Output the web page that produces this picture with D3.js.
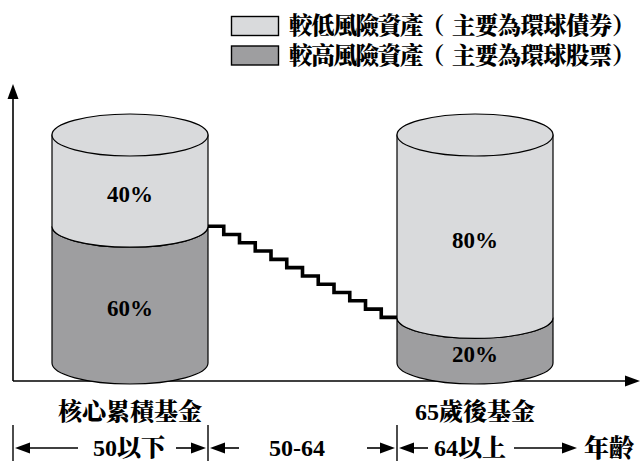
<!DOCTYPE html>
<html>
<head>
<meta charset="utf-8">
<script src="https://cdn.jsdelivr.net/npm/d3@7"></script>
<style>
  html, body { margin: 0; padding: 0; background: #fff; }
  svg { display: block; }
</style>
</head>
<body>
<div id="chart"></div>
<script>
// Fund categories and asset split (percent)
const funds = ["核心累積基金", "65歲後基金"];
const highRisk = [60, 20];   // 較高風險資產
const lowRisk = [40, 80];    // 較低風險資產
const seriesNames = ["較低風險資產（主要為環球債券）", "較高風險資產（主要為環球股票）"];
const ageBands = ["50以下", "50-64", "64以上"];
const ageAxisLabel = "年齡";
const glideSteps = 12;

const W = 643, H = 461;
const font = "'Liberation Serif', 'Noto Serif CJK TC', 'Noto Sans CJK TC', serif";
const lightFill = "#d9dadc", darkFill = "#9e9ea0";

const svg = d3.select("#chart").append("svg").attr("width", W).attr("height", H);

const axisX0 = 13, axisY0 = 381;
const x = d3.scalePoint().domain(funds).range([130, 475]);
const y = d3.scaleLinear().domain([0, 100]).range([363, 135]);
const rx = 78, ry = 21;

// Arrowhead helper
function arrowHead(g, tipX, tipY, dir, len, half) {
  let pts;
  if (dir === "up") pts = [[tipX, tipY], [tipX - half, tipY + len], [tipX + half, tipY + len]];
  else if (dir === "right") pts = [[tipX, tipY], [tipX - len, tipY - half], [tipX - len, tipY + half]];
  else pts = [[tipX, tipY], [tipX + len, tipY - half], [tipX + len, tipY + half]];
  g.append("path").attr("d", d3.line()(pts) + "Z").attr("fill", "#000");
}

// Axes
const axes = svg.append("g");
axes.append("line").attr("x1", axisX0).attr("y1", axisY0).attr("x2", axisX0).attr("y2", 96)
  .attr("stroke", "#000").attr("stroke-width", 1.6);
arrowHead(axes, axisX0, 84, "up", 15, 5.5);
axes.append("line").attr("x1", axisX0).attr("y1", axisY0).attr("x2", 628).attr("y2", axisY0)
  .attr("stroke", "#000").attr("stroke-width", 1.6);
arrowHead(axes, 640, axisY0, "right", 15, 5.5);

// Glide path staircase between the two funds
const leftEdge = x(funds[0]) + rx, rightEdge = x(funds[1]) - rx;
const yStart = y(highRisk[0]), yEnd = y(highRisk[1]);
const stepW = (rightEdge - leftEdge) / glideSteps;
const stairPts = [];
for (let i = 0; i < glideSteps; i++) {
  const yy = yStart + (yEnd - yStart) * i / (glideSteps - 1);
  stairPts.push([leftEdge + i * stepW, yy]);
  stairPts.push([leftEdge + (i + 1) * stepW, yy]);
}
svg.append("path").attr("d", d3.line()(stairPts))
  .attr("fill", "none").attr("stroke", "#000").attr("stroke-width", 3.6)
  .attr("stroke-linejoin", "miter");

// Cylinders
funds.forEach((f, i) => {
  const cx = x(f), L = cx - rx, R = cx + rx;
  const yb = y(0), ym = y(highRisk[i]), yt = y(highRisk[i] + lowRisk[i]);
  const g = svg.append("g");
  // lower (higher-risk) section
  g.append("path")
    .attr("d", `M${L},${ym} L${L},${yb} A${rx},${ry} 0 0 0 ${R},${yb} L${R},${ym} A${rx},${ry} 0 0 1 ${L},${ym} Z`)
    .attr("fill", darkFill).attr("stroke", "#000").attr("stroke-width", 1.2);
  // upper (lower-risk) section
  g.append("path")
    .attr("d", `M${L},${yt} L${L},${ym} A${rx},${ry} 0 0 0 ${R},${ym} L${R},${yt} Z`)
    .attr("fill", lightFill).attr("stroke", "#000").attr("stroke-width", 1.2);
  // top ellipse
  g.append("ellipse").attr("cx", cx).attr("cy", yt).attr("rx", rx).attr("ry", ry)
    .attr("fill", lightFill).attr("stroke", "#000").attr("stroke-width", 1.2);
  // percent labels
  const lbl = (v, y0, y1) => g.append("text")
    .attr("x", cx).attr("y", (y(y0) + y(y1)) / 2 + 14)
    .attr("text-anchor", "middle").attr("dominant-baseline", "central")
    .attr("font-family", font).attr("font-weight", "bold").attr("font-size", 23)
    .text(v + "%");
  lbl(lowRisk[i], highRisk[i], highRisk[i] + lowRisk[i]);
  lbl(highRisk[i], 0, highRisk[i]);
  // fund name
  svg.append("text").attr("x", cx).attr("y", 412)
    .attr("text-anchor", "middle").attr("dominant-baseline", "central")
    .attr("font-family", font).attr("font-weight", "900").attr("font-size", 24)
    .text(f);
});

// Legend: name split around the full-width brackets so each part is placed on its own
const legend = svg.append("g");
[lightFill, darkFill].forEach((c, i) => {
  const ly = 26 + i * 29.5;
  legend.append("rect").attr("x", 231.5).attr("y", ly - 9.5).attr("width", 47).attr("height", 19)
    .attr("fill", c).attr("stroke", "#000").attr("stroke-width", 1.4);
  const parts = seriesNames[i].split(/([（）])/).filter(s => s.length);
  const partX = [289, 421, 452, 612];
  const spacing = [-1.3, 0, -0.7, 0];
  const t = legend.append("text").attr("y", ly)
    .attr("dominant-baseline", "central")
    .attr("font-family", font).attr("font-weight", "900").attr("font-size", 23.5);
  parts.forEach((p, k) => {
    t.append("tspan").attr("x", partX[k])
      .attr("letter-spacing", spacing[k])
      .text(p);
  });
});

// Age band ruler
const ruler = svg.append("g");
const rowY = 448;
const bounds = [axisX0, leftEdge, rightEdge];
bounds.forEach(bx => {
  ruler.append("line").attr("x1", bx).attr("y1", 425).attr("x2", bx).attr("y2", H)
    .attr("stroke", "#000").attr("stroke-width", 1.4);
});
function hArrow(x1, x2, dir) {
  const tip = dir === "right" ? x2 : x1;
  const lineStart = dir === "right" ? x1 : x1 + 12;
  const lineEnd = dir === "right" ? x2 - 12 : x2;
  ruler.append("line").attr("x1", lineStart).attr("y1", rowY).attr("x2", lineEnd).attr("y2", rowY)
    .attr("stroke", "#000").attr("stroke-width", 1.6);
  arrowHead(ruler, tip, rowY, dir, 15, 5.5);
}
const bandText = (t, cx) => ruler.append("text").attr("x", cx).attr("y", rowY)
  .attr("text-anchor", "middle").attr("dominant-baseline", "central")
  .attr("font-family", font).attr("font-weight", "900").attr("font-size", 24)
  .text(t);

// 50以下
hArrow(bounds[0] + 2, bounds[0] + 65, "left");
bandText(ageBands[0], 129);
hArrow(bounds[1] - 32, bounds[1] - 2, "right");
// 50-64
hArrow(bounds[1] + 2, bounds[1] + 31, "left");
bandText(ageBands[1], 297);
hArrow(bounds[2] - 30, bounds[2] - 2, "right");
// 64以上 → 年齡
hArrow(bounds[2] + 2, bounds[2] + 31, "left");
bandText(ageBands[2], 470);
hArrow(514, 577, "right");
ruler.append("text").attr("x", 584).attr("y", rowY)
  .attr("dominant-baseline", "central")
  .attr("font-family", font).attr("font-weight", "900").attr("font-size", 25)
  .text(ageAxisLabel);
</script>
</body>
</html>
